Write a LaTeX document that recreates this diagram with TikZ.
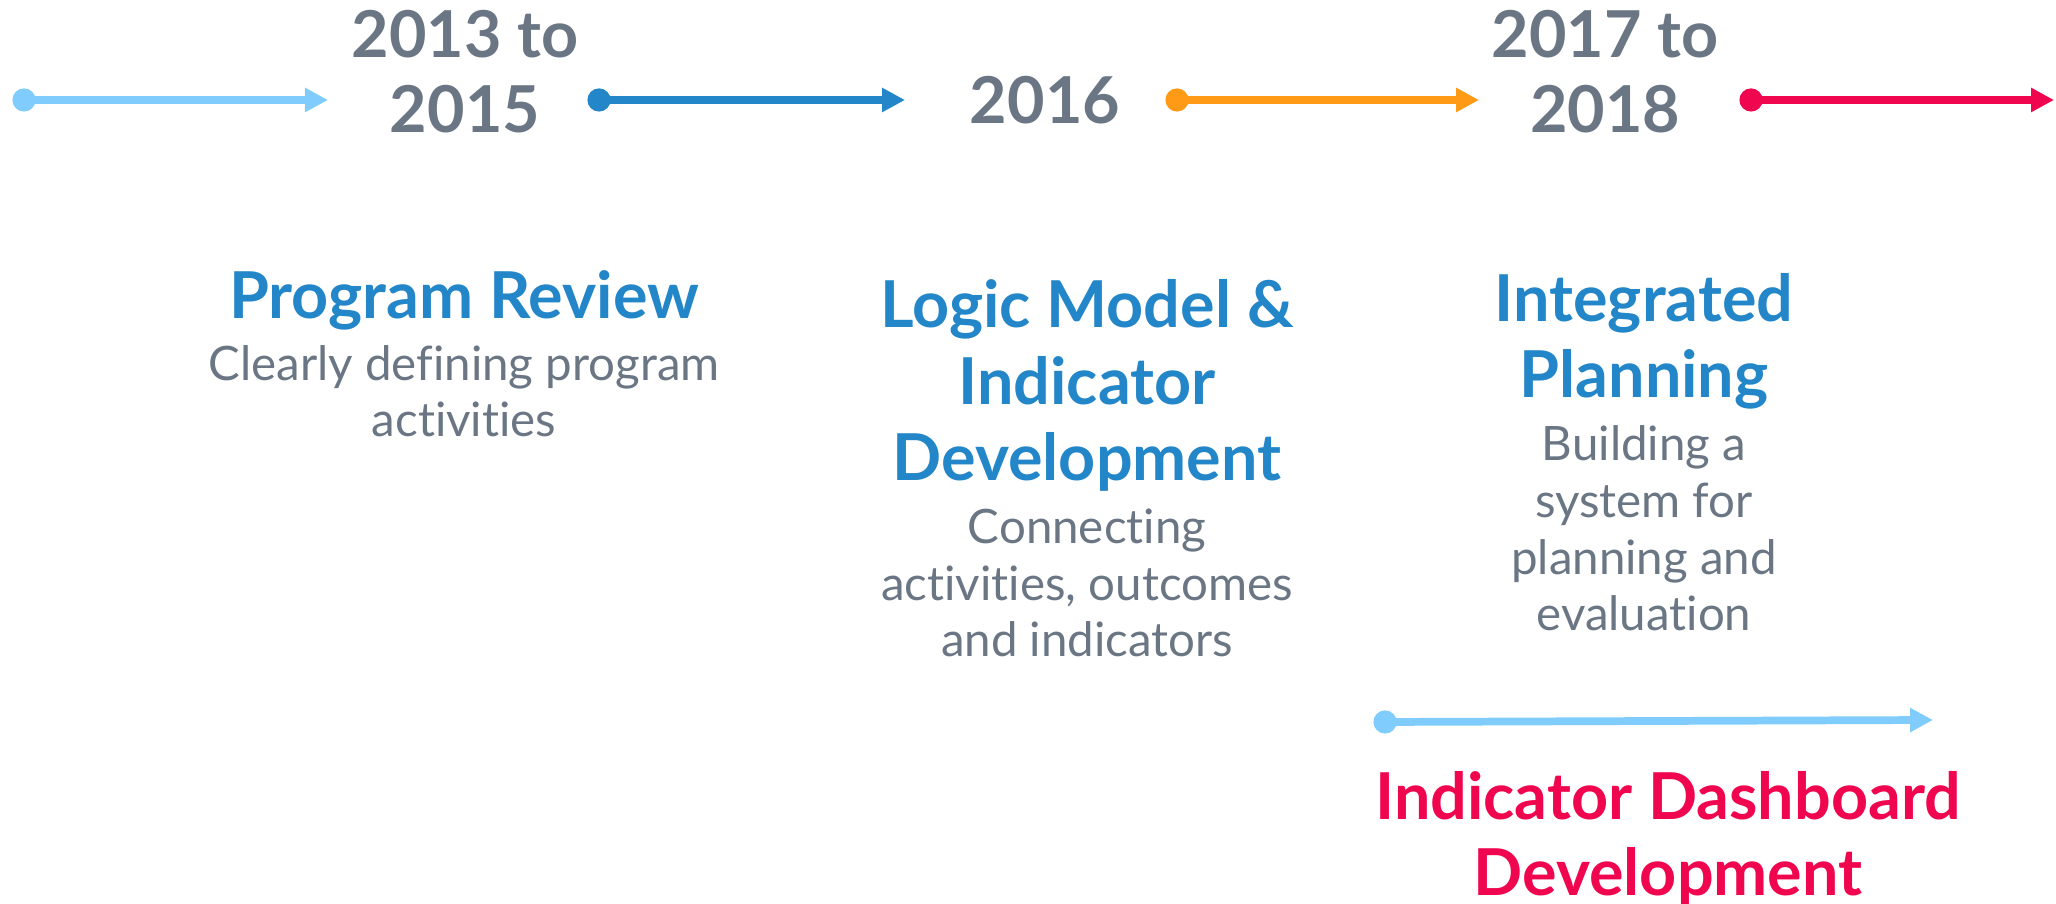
\documentclass[tikz,border=0pt]{standalone}
\usepackage{fontspec}
\setmainfont{Lato}[Ligatures=NoCommon]
\usetikzlibrary{arrows.meta}

\definecolor{tlgray}{HTML}{6B7684}
\definecolor{tllight}{HTML}{80CCFC}
\definecolor{tlblue}{HTML}{2386C8}
\definecolor{tlorange}{HTML}{FF9A17}
\definecolor{tlpink}{HTML}{F0054F}

\tikzset{
  period/.style={line width=2.2pt, -{Triangle[length=6.5pt,width=6.5pt]}},
  year/.style={font=\fontsize{18.4}{21.6}\selectfont\bfseries, text=tlgray, align=center, inner sep=0pt, anchor=base},
  phase/.style={font=\fontsize{18.4}{21.9}\selectfont\bfseries, text=tlblue, align=center, inner sep=0pt, anchor=base},
  blurb/.style={font=\fontsize{13.5}{16.2}\selectfont, text=tlgray, align=center, inner sep=0pt, anchor=base},
}

\begin{document}
\begin{tikzpicture}[x=0.1mm,y=-0.1mm]
  \useasboundingbox (0,0) rectangle (2056,904);
  % timeline arrows
  \coordinate (s1) at (24,100);   \coordinate (e1) at (328,100);
  \coordinate (s2) at (599,100);  \coordinate (e2) at (905,100);
  \coordinate (s3) at (1177,100); \coordinate (e3) at (1479,100);
  \coordinate (s4) at (1751,100); \coordinate (e4) at (2054,100);
  \coordinate (s5) at (1385,722); \coordinate (e5) at (1933,720);
  \draw[period, tllight] (s1) -- (e1);
  \draw[period, tlblue] (s2) -- (e2);
  \draw[period, tlorange] (s3) -- (e3);
  \draw[period, tlpink] (s4) -- (e4);
  \draw[period, tllight] (s5) -- (e5);
  \fill[tllight] (s1) circle (3.3pt);
  \fill[tlblue] (s2) circle (3.3pt);
  \fill[tlorange] (s3) circle (3.3pt);
  \fill[tlpink] (s4) circle (3.3pt);
  \fill[tllight] (s5) circle (3.3pt);
  % years (base = last line)
  \node[year] (yr1) at (465,133) {2013 to\\2015};
  \node[year] (yr2) at (1045,124) {2016};
  \node[year] (yr3) at (1605,133) {2017 to\\2018};
  % phases
  \node[phase] (review) at (464,319) {Program Review};
  \node[blurb] (reviewtxt) at (464,437) {Clearly defining program\\activities};
  \node[phase] (logic) at (1087,481) {Logic Model \&\\Indicator\\Development};
  \node[blurb] (logictxt) at (1087,657) {Connecting\\activities, outcomes\\and indicators};
  \node[phase] (plan) at (1644,398) {Integrated\\Planning};
  \node[blurb] (plantxt) at (1644,631) {Building a\\system for\\planning and\\evaluation};
  \node[phase, text=tlpink] (dash) at (1668,896) {Indicator Dashboard\\Development};
\end{tikzpicture}
\end{document}
